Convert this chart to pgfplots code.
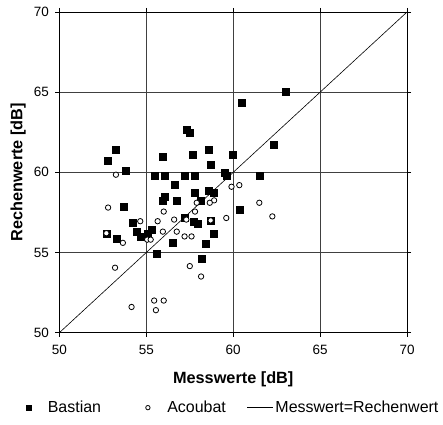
\documentclass[border=0pt]{standalone}
\usepackage{pgfplots}
\pgfplotsset{compat=1.18}
\usepackage{fontspec}
\setmainfont{Liberation Sans}
\pgfplotsset{
  smallmark/.style={legend image code/.code={\draw[##1, mark size=#1] plot coordinates {(0pt,0pt)};\path (17pt,0pt);}},
  shortline/.style={legend image code/.code={\draw[##1] (0pt,0pt) -- (26pt,0pt);}},
}
\begin{document}
\begin{tikzpicture}
\path[use as bounding box] (-59.5pt,-92pt) rectangle (384pt,333pt);
\begin{axis}[
    at={(0,0)}, anchor=south west,
    scale only axis,
    width=348pt, height=321pt,
    xmin=50, xmax=70, ymin=50, ymax=70,
    xtick={50,55,...,70}, ytick={50,55,...,70},
    grid=major,
    major grid style={black!75, line width=0.6pt},
    axis line style={black, line width=0.6pt},
    tick align=outside,
    major tick length=4pt,
    tick style={black, line width=0.6pt},
    /pgf/number format/assume math mode=true,
    ticklabel style={font=\fontsize{13.5}{15}\selectfont},
    xticklabel style={yshift=-5pt},
    yticklabel style={xshift=-3pt},
    xlabel={Messwerte [dB]},
    ylabel={Rechenwerte [dB]},
    label style={font=\bfseries\fontsize{16.3}{18}\selectfont},
    xlabel style={at={(axis description cs:0.5,-0.146)}, anchor=center},
    ylabel style={at={(axis description cs:-0.119,0.5)}, anchor=center},
    legend columns=3,
    legend style={draw=none, fill=none, at={(axis description cs:0.5,-0.234)}, anchor=center,
        font=\fontsize{16}{18}\selectfont,
        /tikz/every odd column/.append style={column sep=0pt},
        /tikz/every even column/.append style={column sep=19pt}},
    legend cell align=left,
  ]
  % Bastian
  \addplot[only marks, mark=square*, mark size=3.5pt, black, smallmark=2.6pt] coordinates {
    (63.0,65.0) (60.5,64.35) (57.35,62.65) (57.5,62.45) (62.3,61.7)
    (53.25,61.4) (52.8,60.75) (53.8,60.1) (55.95,60.95) (57.65,61.07)
    (58.6,61.4) (59.95,61.07) (58.7,60.5) (55.5,59.8) (56.05,59.8)
    (57.2,59.8) (57.8,59.8) (59.5,59.95) (59.65,59.8) (61.55,59.8)
    (56.65,59.25) (57.8,58.75) (58.6,58.85) (58.9,58.75) (56.05,58.45)
    (55.95,58.2) (56.75,58.2) (58.1,58.2) (53.7,57.85) (60.35,57.65)
    (57.2,57.15) (57.7,56.9) (57.95,56.8) (58.7,57.0) (54.2,56.85)
    (52.7,56.2) (53.3,55.85) (54.45,56.3) (54.7,56.0) (55.05,56.2)
    (55.3,56.45) (55.6,54.95) (58.9,56.15) (58.4,55.55) (56.5,55.6)
    (58.2,54.6)
  };
  \addlegendentry{\makebox[77pt][l]{Bastian}}
  % Acoubat
  \addplot[only marks, mark=*, mark size=2.7pt, black, line width=0.8pt,
    mark options={fill=white}, smallmark=2.2pt] coordinates {
    (60.35,59.2) (59.9,59.1) (53.25,59.85) (58.9,58.25) (58.65,58.1)
    (57.9,58.1) (61.5,58.1) (56.0,57.55) (57.8,57.55) (52.8,57.8)
    (62.25,57.25) (59.6,57.15) (54.65,56.95) (55.65,56.95) (56.6,57.05)
    (57.3,57.05) (58.7,57.0) (55.95,56.3) (56.75,56.3) (57.2,56.0)
    (57.6,56.0) (52.7,56.2) (53.65,55.6) (55.05,55.8) (55.25,55.8)
    (53.2,54.05) (57.5,54.15) (58.15,53.5) (54.15,51.6) (55.45,52.0)
    (56.0,52.0) (55.55,51.4)
  };
  \addlegendentry{Acoubat}
  % diagonal
  \addplot[black, line width=0.6pt, no marks, shortline] coordinates {(50,50) (70,70)};
  \addlegendentry{Messwert=Rechenwert}
\end{axis}
\end{tikzpicture}
\end{document}
